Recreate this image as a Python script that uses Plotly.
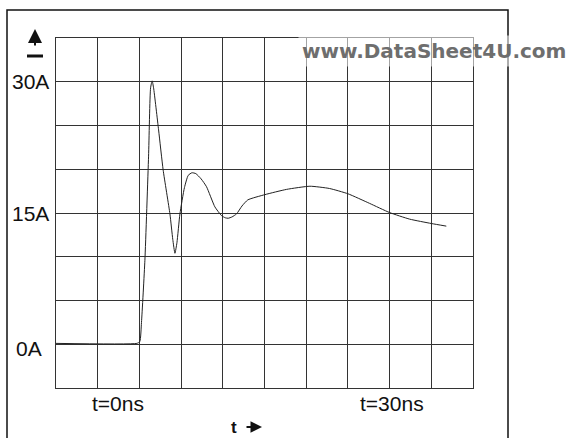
import plotly.graph_objects as go

# Data (time in ns, current in A)
t_ns = [-10, -0.3, 0.05, 0.25, 0.66, 1.1, 1.34, 1.53, 1.7, 2.3, 2.85, 3.66, 4.0, 4.26,
        4.5, 4.86, 5.4, 5.85, 6.3, 6.77, 7.4, 8.05, 9.05, 9.85, 10.3, 10.65, 11.1,
        11.65, 12.3, 13.0, 15.05, 17.65, 20.45, 22.8, 25.0, 27.6, 30.0, 32.4, 35.0, 36.8]
i_amp = [0.1, 0.1, 0.3, 2.5, 9.6, 21.5, 29.3, 30.1, 29.3, 24.5, 19.9, 14.9, 12.0, 10.4,
         11.6, 14.9, 17.9, 19.3, 19.6, 19.5, 18.9, 18.0, 15.7, 14.7, 14.45, 14.4, 14.55,
         14.9, 15.8, 16.5, 17.1, 17.7, 18.06, 17.8, 17.2, 16.1, 15.05, 14.3, 13.8, 13.5]

y_labels = ["30A", "15A", "0A"]
x_labels = ["t=0ns", "t=30ns"]

W, H = 570, 438
L, R, T, B = 56, 473, 38, 388  # plot area in pixels


def px(x):
    return (x - L) / (R - L)


def py(y):
    return (B - y) / (B - T)


fig = go.Figure()
fig.add_trace(go.Scatter(x=t_ns, y=i_amp, mode="lines",
                         line=dict(color="#222", width=1, shape="spline", smoothing=0.5),
                         hoverinfo="skip", showlegend=False))

axis_common = dict(showgrid=True, gridcolor="#333", gridwidth=1, zeroline=False,
                   showticklabels=False, ticks="", showline=True, linecolor="#333",
                   linewidth=1, mirror=True, fixedrange=True)
fig.update_xaxes(range=[-10, 40], dtick=5, tick0=0, **axis_common)
fig.update_yaxes(range=[-5, 35], dtick=5, tick0=0, **axis_common)

font = dict(family="Liberation Sans, Arial, sans-serif", size=21, color="#111")
ann = []
# y labels
for lbl, ypx, xr in zip(y_labels, [81, 213, 348], [51, 51, 44]):
    ann.append(dict(x=px(xr), y=py(ypx), xref="paper", yref="paper", text=lbl,
                    showarrow=False, xanchor="right", yanchor="middle", font=font))
# x labels
for lbl, xpx in zip(x_labels, [118, 392]):
    ann.append(dict(x=px(xpx), y=py(403), xref="paper", yref="paper", text=lbl,
                    showarrow=False, xanchor="center", yanchor="middle", font=font))
# "t" label with right arrow
ann.append(dict(x=px(234), y=py(427), xref="paper", yref="paper", text="<b>t</b>",
                showarrow=False, xanchor="center", yanchor="middle",
                font=dict(family="Liberation Sans, Arial, sans-serif", size=17, color="#111")))
ann.append(dict(x=px(262), y=py(427), ax=-17, ay=0, xref="paper", yref="paper",
                axref="pixel", ayref="pixel", text="", showarrow=True, arrowhead=2,
                arrowsize=1.15, arrowwidth=2, arrowcolor="#111"))
# up arrow
ann.append(dict(x=px(35), y=py(29), ax=0, ay=18, xref="paper", yref="paper",
                axref="pixel", ayref="pixel", text="", showarrow=True, arrowhead=2,
                arrowsize=1.4, arrowwidth=2, arrowcolor="#111"))
# watermark
ann.append(dict(x=px(298), y=py(51), xref="paper", yref="paper",
                text="<b>www.DataSheet4U.com</b>", showarrow=False, xanchor="left",
                yanchor="middle", bgcolor="rgba(255,255,255,0.55)", borderpad=3,
                font=dict(family="DejaVu Sans, sans-serif", size=20, color="#6e6e6e")))

shapes = [
    # outer frame
    dict(type="rect", xref="paper", yref="paper", x0=px(7), x1=px(508), y0=py(460), y1=py(10),
         line=dict(color="#111", width=1.5), layer="below"),
    # bar under up arrow
    dict(type="line", xref="paper", yref="paper", x0=px(27), x1=px(43), y0=py(56), y1=py(56),
         line=dict(color="#111", width=3)),
]

fig.update_layout(width=W, height=H, margin=dict(l=L, r=W - R, t=T, b=H - B),
                  paper_bgcolor="white", plot_bgcolor="white",
                  annotations=ann, shapes=shapes)

fig.write_html("out.html", config={"displayModeBar": False},
               post_script="document.body.style.margin='0';document.body.style.overflow='hidden';")
